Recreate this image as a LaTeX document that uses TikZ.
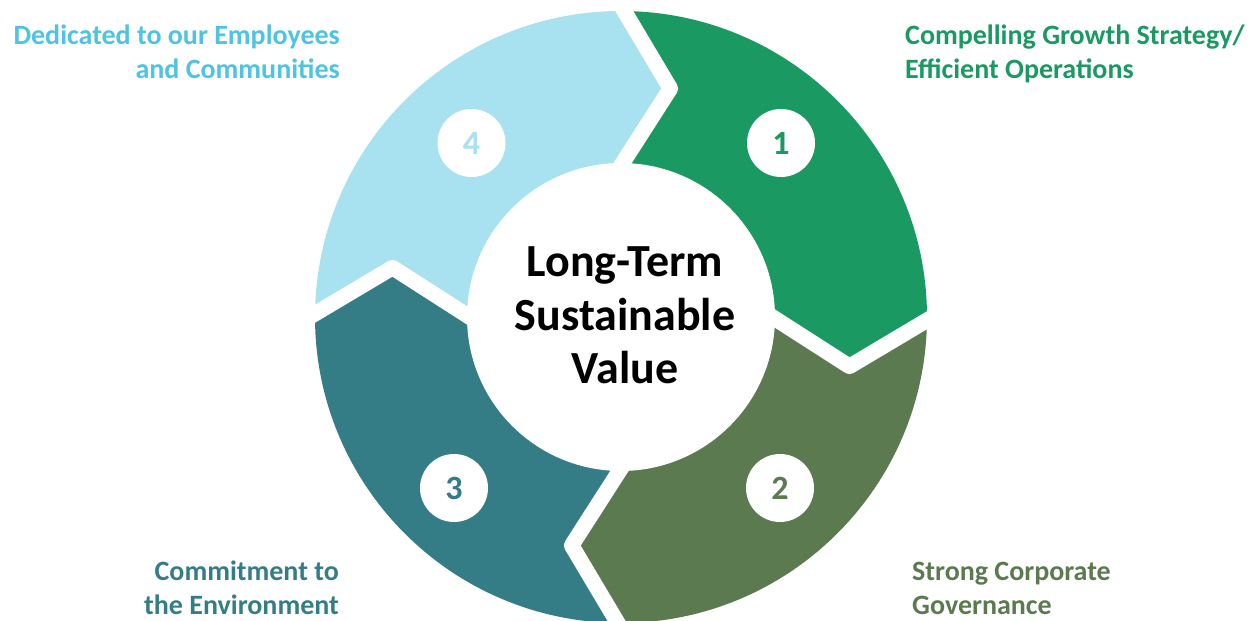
\documentclass[tikz,border=0pt]{standalone}
\usepackage{fontspec}
\setmainfont{Carlito}
\usetikzlibrary{calc}
\definecolor{cLB}{HTML}{A8E1F0}
\definecolor{cG}{HTML}{1A9A62}
\definecolor{cO}{HTML}{5B7A50}
\definecolor{cT}{HTML}{357D86}
\definecolor{tLB}{HTML}{4FC3E2}
\tikzset{
  gap/.style={draw=white, line width=15.5pt, line join=round},
  numcircle/.style={circle, fill=white, minimum size=68pt, inner sep=0pt, font=\fontsize{34}{34}\selectfont\bfseries},
  lbl/.style={inner sep=0pt, font=\fontsize{28}{34}\selectfont\bfseries},
  centre/.style={inner sep=0pt, align=center, font=\fontsize{46}{53.5}\selectfont\bfseries}
}
\begin{document}
\begin{tikzpicture}[x=1pt,y=1pt]
\useasboundingbox (0,0) rectangle (1251,621);
\clip (0,0) rectangle (1251,621);
\begin{scope}[shift={(621,304)}, rotate=-0.6]
  \foreach \a [count=\i from 0] in {0,90,180,270} {
    \coordinate (P\i) at (92.27-\a:327.66);
    \coordinate (T\i) at (78.40-\a:233.77);
    \coordinate (Q\i) at (95.72-\a:133.46);
  }
  \coordinate (O) at (0,0);
  \begin{scope}
    \clip (O) circle (306);
    \fill[cG] (P0) -- (T0) -- (Q0) -- (O) -- (Q1) -- (T1) -- (P1) -- (0:450) -- (45:450) -- (90:450) -- cycle;
    \fill[cO] (P1) -- (T1) -- (Q1) -- (O) -- (Q2) -- (T2) -- (P2) -- (-90:450) -- (-45:450) -- (0:450) -- cycle;
    \fill[cT] (P2) -- (T2) -- (Q2) -- (O) -- (Q3) -- (T3) -- (P3) -- (-180:450) -- (-135:450) -- (-90:450) -- cycle;
    \fill[cLB] (P3) -- (T3) -- (Q3) -- (O) -- (Q0) -- (T0) -- (P0) -- (90:450) -- (135:450) -- (180:450) -- cycle;
  \end{scope}
  \fill[white] (O) circle (154);
  \foreach \i in {0,1,2,3} {
    \draw[gap] (P\i) -- (T\i) -- (Q\i);
  }
\end{scope}
\node[numcircle, text=cLB] (n4) at (471.5,478) {4};
\node[numcircle, text=cG] (n1) at (781,478) {1};
\node[numcircle, text=cT] (n3) at (454,133) {3};
\node[numcircle, text=cO] (n2) at (780,133) {2};
\node[centre, anchor=base] (c) at (625,237) {Long-Term\\Sustainable\\Value};
\node[lbl, text=tLB, align=right, anchor=base east] (l4) at (340,542) {Dedicated to our Employees\\and Communities};
\node[lbl, text=cG, align=left, anchor=base west] (l1) at (905,542) {Compelling Growth Strategy/\\Efficient Operations};
\node[lbl, text=cT, align=right, anchor=base east] (l3) at (339,6) {Commitment to\\the Environment};
\node[lbl, text=cO, align=left, anchor=base west] (l2) at (912,6) {Strong Corporate\\Governance};
\end{tikzpicture}
\end{document}
